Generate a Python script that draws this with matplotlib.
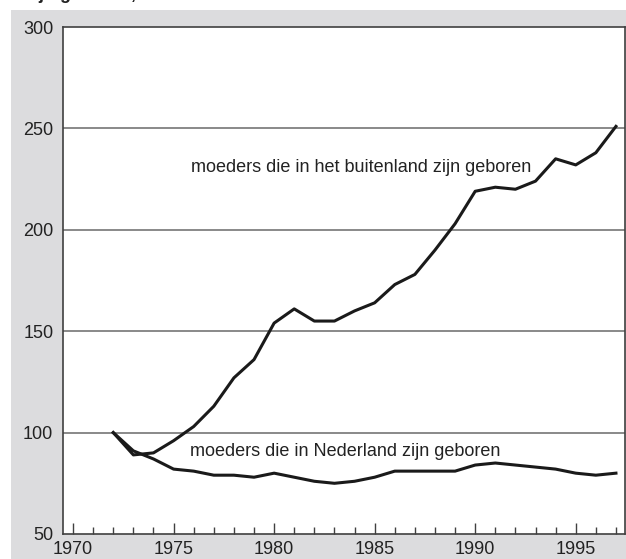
import matplotlib
matplotlib.use("Agg")
import matplotlib.pyplot as plt

years = list(range(1972, 1998))
buitenland = [100, 89, 90, 96, 103, 113, 127, 136, 154, 161, 155, 155, 160, 164,
              173, 178, 190, 203, 219, 221, 220, 224, 235, 232, 238, 251]
nederland = [100, 91, 87, 82, 81, 79, 79, 78, 80, 78, 76, 75, 76, 78,
             81, 81, 81, 81, 84, 85, 84, 83, 82, 80, 79, 80]
yticks = [50, 100, 150, 200, 250, 300]
xticks = [1970, 1975, 1980, 1985, 1990, 1995]
label_buiten = "moeders die in het buitenland zijn geboren"
label_ned = "moeders die in Nederland zijn geboren"
title = "zijn geboren, 1972=100"

plt.rcParams['font.family'] = ['Liberation Sans', 'DejaVu Sans']

W, H = 626, 559
fig = plt.figure(figsize=(W / 100, H / 100), dpi=100)
fig.patch.set_facecolor('white')

bg = fig.add_axes([11 / W, 0, 1 - 11 / W, 1 - 10 / H], zorder=-5)
bg.set_facecolor('#dcdcde')
bg.set_xticks([])
bg.set_yticks([])
for s in bg.spines.values():
    s.set_visible(False)

fig.text(222 / W, 1 + 1 / H, title, ha='right', va='baseline',
         fontsize=13, fontweight='bold', color='#222222')

ax = fig.add_axes([63 / W, 25 / H, (625 - 63) / W, (534 - 27) / H], zorder=1)
ax.set_facecolor('white')
ax.set_xlim(1969.5, 1997.45)
ax.set_ylim(50, 300)

for v in yticks[1:-1]:
    ax.axhline(v, color='#808080', lw=1.3, zorder=1)

ax.plot(years, buitenland, color='#1a1a1a', lw=2.2, zorder=3)
ax.plot(years, nederland, color='#1a1a1a', lw=2.2, zorder=3)

ax.text(1975.86, 230.5, label_buiten, fontsize=13, color='#222222', va='center')
ax.text(1975.82, 90.5, label_ned, fontsize=13, color='#222222', va='center')

for s in ax.spines.values():
    s.set_color('#404040')
    s.set_linewidth(1.2)

ax.set_yticks(yticks)
ax.set_yticklabels([str(v) for v in yticks])
ax.tick_params(axis='y', length=0, pad=7, labelsize=13, labelcolor='#222222')
ax.set_xticks(xticks)
ax.set_xticklabels([str(v) for v in xticks])
ax.set_xticks(list(range(1970, 1998)), minor=True)
ax.tick_params(axis='x', which='major', direction='in', length=8, width=1,
               color='#404040', pad=5, labelsize=13, labelcolor='#222222')
ax.tick_params(axis='x', which='minor', direction='in', length=5, width=1,
               color='#404040')

fig.savefig('out.png', dpi=100)
